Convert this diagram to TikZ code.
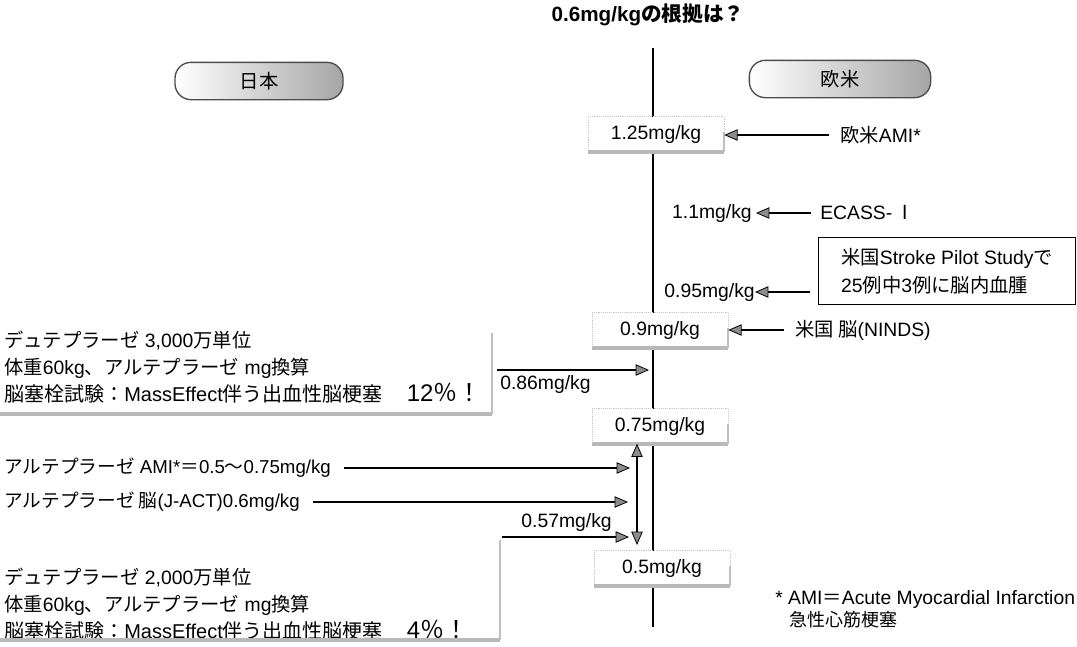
\documentclass[tikz,border=0pt]{standalone}
\usepackage{fontspec}
\setmainfont{Liberation Sans}
\newfontfamily\jp{Noto Sans CJK JP}
\usetikzlibrary{arrows.meta,shadings}
\newcommand\J[1]{{\jp #1}}
\newcommand\bigfs{\fontsize{18}{20}\selectfont}
\newcommand\lthree{\fontsize{15}{20}\selectfont}
\begin{document}
\begin{tikzpicture}[x=0.75pt,y=-0.75pt,
  every node/.style={font=\fontsize{14.5}{20}\selectfont, inner sep=0pt},
  mainline/.style={line width=2pt,black},
  tip/.tip={Triangle[length=10pt,width=8.5pt,fill=black!45,line width=0.6pt]},
  arr/.style={line width=1.3pt,-tip},
  darr/.style={line width=1.3pt,tip-tip},
  vbox/.style={fill=white, draw=gray!45, densely dotted, minimum width=102pt, minimum height=26pt},
  shad/.style={line width=3pt, gray!55},
  shadv/.style={line width=1.5pt, gray!50},
  pill/.style={rounded corners=12pt, draw=black!70, line width=1pt, left color=white, middle color=white, right color=gray!70, minimum height=28pt},
  ]
\useasboundingbox (0,0) rectangle (1077,646);
\fill[white] (0,0) rectangle (1077,646);

% title and main line
\node[font=\bfseries\fontsize{15.5}{18}\selectfont] (title) at (648,15) {0.6mg/kg\J{の根拠は？}};
\coordinate (mtop) at (653,48);
\coordinate (mbot) at (653,627);
\draw[mainline] (mtop) -- (mbot);

% pills
\node[pill, minimum width=126pt] (jpn) at (259,81) {\J{日本}};
\node[pill, minimum width=136pt] (eu) at (840,79) {\J{欧米}};

% value boxes
\node[vbox] (b125) at (656,134) {1.25mg/kg};
\node[vbox] (b09) at (660,330) {0.9mg/kg};
\node[vbox] (b075) at (660,426) {0.75mg/kg};
\node[vbox] (b05) at (662,568) {0.5mg/kg};
\foreach \b in {b125,b09,b075,b05}{
  \draw[shad] (\b.south west) -- (\b.south east);
  \draw[shadv] (\b.south east) -- ++(0,-20);
}

% right side
\node[anchor=west] (eami) at (840,135) {\J{欧米}AMI*};
\draw[arr, shorten <=8pt] (eami.west) -- (eami.west -| b125.east);

\node[anchor=west] (ecass) at (820,213) {ECASS-\,\J{Ⅰ}};
\node[anchor=east] (v11) at (752,213) {1.1mg/kg};
\draw[arr, shorten <=7pt, shorten >=3pt] (ecass.west) -- (v11.east);

\node[draw, line width=0.6pt, minimum width=193pt, minimum height=50pt, align=left, anchor=west,
      font=\fontsize{14.5}{21}\selectfont] (sps) at (818,271)
  {\J{米国}Stroke Pilot Study\J{で}\\25\J{例中}3\J{例に脳内血腫}};
\node[anchor=east] (v095) at (755,292) {0.95mg/kg};
\draw[arr, shorten <=6pt] (sps.west |- v095.east) -- (v095.east);

\node[anchor=west] (ninds) at (795,330) {\J{米国 脳}(NINDS)};
\draw[arr, shorten <=8pt] (ninds.west) -- (ninds.west -| b09.east);

% left block 1
\node[anchor=west, align=left] (tb1) at (4,367)
  {\J{デュテプラーゼ} 3,000\J{万単位}\\
   \J{体重}60kg\J{、アルテプラーゼ} mg\J{換算}\\
   {\lthree\J{脳塞栓試験：}MassEffect\J{伴う出血性脳梗塞}}\hspace{18pt}{\bigfs 12\J{％！}}};
\coordinate (f1a) at (0,414);
\coordinate (f1b) at (492,414);
\coordinate (f1c) at (492,333);
\draw[shad] (f1a) -- (f1b);
\draw[shadv] (f1b) -- (f1c);
\coordinate (a86s) at (497,370);
\coordinate (a86e) at (649,370);
\draw[arr] (a86s) -- (a86e);
\node[anchor=west] (v086) at (500,384) {0.86mg/kg};

% middle left
\node[anchor=west, font=\fontsize{14}{20}\selectfont] (ami) at (4,468) {\J{アルテプラーゼ} AMI*\J{＝}0.5\J{〜}0.75mg/kg};
\coordinate (tami) at (630,468);
\draw[arr, shorten <=10pt] (ami.east) -- (tami);
\node[anchor=west, font=\fontsize{14}{20}\selectfont] (jact) at (4,502) {\J{アルテプラーゼ 脳}(J-ACT)0.6mg/kg};
\coordinate (tjact) at (628,502);
\draw[arr, shorten <=10pt] (jact.east) -- (tjact);
\node[anchor=east] (v057) at (612,522) {0.57mg/kg};
\coordinate (a57s) at (502,537);
\coordinate (a57e) at (629,537);
\draw[arr] (a57s) -- (a57e);
\coordinate (dbot) at (637,545);
\draw[darr] (b075.south -| dbot) -- (dbot);

% left block 2
\node[anchor=west, align=left] (tb2) at (4,604)
  {\J{デュテプラーゼ} 2,000\J{万単位}\\
   \J{体重}60kg\J{、アルテプラーゼ} mg\J{換算}\\
   {\lthree\J{脳塞栓試験：}MassEffect\J{伴う出血性脳梗塞}}\hspace{18pt}{\bigfs 4\J{％！}}};
\coordinate (f2a) at (0,640);
\coordinate (f2b) at (500,640);
\coordinate (f2c) at (500,540);
\draw[shad] (f2a) -- (f2b);
\draw[shadv] (f2b) -- (f2c);

% footnote
\node[anchor=north west, align=left, font=\fontsize{14.5}{17}\selectfont] (fn) at (775,590)
  {* AMI\J{＝}Acute Myocardial Infarction\\\hspace{11pt}{\fontsize{13.5}{17}\selectfont\J{急性心筋梗塞}}};
\end{tikzpicture}
\end{document}
